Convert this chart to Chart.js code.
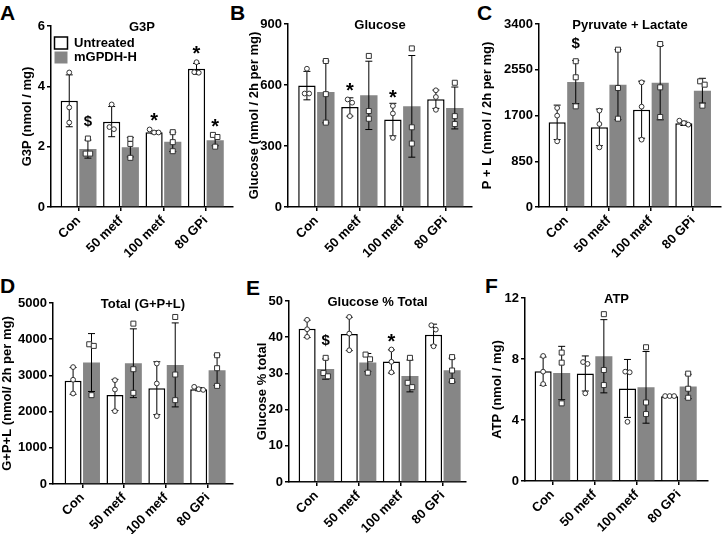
<!DOCTYPE html>
<html>
<head>
<meta charset="utf-8">
<script src="https://cdn.jsdelivr.net/npm/chart.js@4.4.0/dist/chart.umd.min.js"></script>
<style>
  body { margin: 0; background: #fff; width: 722px; height: 534px; position: relative; overflow: hidden;
         font-family: "Liberation Sans", Arial, sans-serif; }
  canvas { position: absolute; }
  .letter { position: absolute; font-weight: bold; font-size: 21px; line-height: 1; color: #000; }
</style>
</head>
<body>
<div class="letter" style="left:0px;top:2px">A</div>
<div class="letter" style="left:230px;top:2px">B</div>
<div class="letter" style="left:477px;top:2px">C</div>
<div class="letter" style="left:0px;top:275px">D</div>
<div class="letter" style="left:246px;top:277px">E</div>
<div class="letter" style="left:485px;top:275px">F</div>
<script>
const categories = ['Con', '50 metf', '100 metf', '80 GPi'];
const seriesNames = ['Untreated', 'mGPDH-H'];

// A - G3P
const g3pU = [3.52, 2.83, 2.48, 4.58];
const g3pUSd = [0.86, 0.5, 0.05, 0.18];
const g3pUPts = [[4.46, 3.3, 2.8], [3.4, 2.65, 2.58], [2.57, 2.47, 2.47], [4.8, 4.47, 4.45]];
const g3pUSig = ['', '', '*', '*'];
const g3pH = [1.92, 1.98, 2.16, 2.21];
const g3pHSd = [0.3, 0.32, 0.32, 0.18];
const g3pHPts = [[2.27, 1.77, 1.77], [2.26, 2.09, 1.63], [2.48, 2.15, 1.85], [2.39, 2.32, 2.0]];
const g3pHSig = ['$', '', '', '*'];

// B - Glucose
const gluU = [597, 492, 430, 530];
const gluUSd = [70, 45, 80, 45];
const gluUPts = [[680, 558, 558], [529, 513, 447], [497, 460, 340], [574, 541, 478]];
const gluUSig = ['', '*', '*', ''];
const gluH = [566, 549, 495, 487];
const gluHSd = [152, 168, 250, 103];
const gluHPts = [[718, 555, 415], [743, 472, 434], [780, 392, 312], [611, 447, 408]];
const gluHSig = ['', '', '', ''];

// C - Pyruvate + Lactate
const plU = [1573, 1480, 1808, 1554];
const plUSd = [320, 340, 530, 40];
const plUPts = [[1840, 1697, 1220], [1790, 1542, 1108], [2316, 1864, 1251], [1604, 1560, 1530]];
const plUSig = ['', '', '', ''];
const plH = [2322, 2273, 2310, 2161];
const plHSd = [400, 650, 690, 230];
const plHPts = [[2708, 2410, 1870], [2923, 2211, 1641], [3028, 2223, 1672], [2335, 2273, 1883]];
const plHSig = ['$', '', '', ''];

// D - Total (G+P+L)
const totU = [2849, 2460, 2647, 2620];
const totUSd = [370, 430, 730, 45];
const totUPts = [[3230, 2880, 2500], [2868, 2610, 2013], [3327, 2776, 1875], [2684, 2620, 2600]];
const totUSig = ['', '', '', ''];
const totH = [3355, 3336, 3290, 3143];
const totHSd = [800, 950, 1160, 420];
const totHPts = [[3860, 3815, 2454], [4430, 3171, 2518], [4614, 3024, 2316], [3557, 3199, 2711]];
const totHSig = ['', '', '', ''];

// E - Glucose % Total
const pctU = [42.3, 40.9, 33.3, 40.7];
const pctUSd = [2.4, 4.6, 3.2, 2.9];
const pctUPts = [[44.8, 42.2, 40.1], [45.6, 41.0, 36.4], [36.6, 33.2, 30.3], [43.3, 42.1, 37.5]];
const pctUSig = ['', '', '*', ''];
const pctH = [31.2, 33.0, 29.3, 30.9];
const pctHSd = [2.8, 2.5, 4.4, 3.3];
const pctHPts = [[34.3, 30.1, 29.2], [35.2, 33.9, 30.2], [34.3, 27.4, 26.2], [34.5, 30.8, 27.9]];
const pctHSig = ['$', '', '', ''];

// F - ATP
const atpU = [7.2, 7.05, 6.07, 5.55];
const atpUSd = [0.93, 1.15, 1.9, 0.04];
const atpUPts = [[8.2, 7.17, 6.36], [7.8, 7.68, 5.75], [7.17, 7.13, 3.88], [5.57, 5.57, 5.57]];
const atpUSig = ['', '', '', ''];
const atpH = [7.08, 8.18, 6.14, 6.2];
const atpHSd = [1.75, 2.4, 2.35, 0.8];
const atpHPts = [[8.42, 7.76, 5.09], [10.94, 7.28, 6.29], [8.77, 5.15, 4.39], [7.04, 6.05, 5.46]];
const atpHSig = ['', '', '', ''];

const FONT = '"Liberation Sans", Arial, sans-serif';
const GRAY = '#868686';

Chart.defaults.font.family = FONT;
Chart.defaults.font.weight = 'bold';
Chart.defaults.font.size = 13;
Chart.defaults.color = '#000';

const panels = [
  { id: 'A', box: [0, 0, 240, 267], padL: 20, yW: 31, padT: 26, padR: 7, xH: 60, xMin: -0.65, xMax: 3.64,
    title: 'G3P', yTitle: 'G3P (nmol / mg)', yMax: 6, step: 2, legend: true,
    u: g3pU, uSd: g3pUSd, uPts: g3pUPts, uSig: g3pUSig, h: g3pH, hSd: g3pHSd, hPts: g3pHPts, hSig: g3pHSig },
  { id: 'B', box: [240, 0, 240, 267], padL: 7, yW: 41, padT: 24, padR: 8, xH: 60, xMin: -0.66, xMax: 3.62,
    title: 'Glucose', yTitle: 'Glucose (nmol / 2h per mg)', yMax: 900, step: 300,
    u: gluU, uSd: gluUSd, uPts: gluUPts, uSig: gluUSig, h: gluH, hSd: gluHSd, hPts: gluHPts, hSig: gluHSig },
  { id: 'C', box: [480, 0, 242, 267], padL: 0, yW: 59, padT: 24, padR: 1, xH: 60, xMin: -0.65, xMax: 3.66,
    title: 'Pyruvate + Lactate', yTitle: 'P + L (nmol / 2h per mg)', yMax: 3400, step: 850,
    u: plU, uSd: plUSd, uPts: plUPts, uSig: plUSig, h: plH, hSd: plHSd, hPts: plHPts, hSig: plHSig },
  { id: 'D', box: [0, 267, 240, 267], padL: 0, yW: 53, padT: 36, padR: 7, xH: 50, xMin: -0.7, xMax: 3.6,
    title: 'Total (G+P+L)', yTitle: 'G+P+L (nmol/ 2h per mg)', yMax: 5000, step: 1000,
    u: totU, uSd: totUSd, uPts: totUPts, uSig: totUSig, h: totH, hSd: totHSd, hPts: totHPts, hSig: totHSig },
  { id: 'E', box: [240, 267, 240, 267], padL: 15, yW: 34, padT: 34, padR: 14, xH: 52, xMin: -0.65, xMax: 3.55,
    title: 'Glucose % Total', yTitle: 'Glucose % total', yMax: 50, step: 10,
    u: pctU, uSd: pctUSd, uPts: pctUPts, uSig: pctUSig, h: pctH, hSd: pctHSd, hPts: pctHPts, hSig: pctHSig },
  { id: 'F', box: [480, 267, 242, 267], padL: 10, yW: 35, padT: 31, padR: 14, xH: 53, xMin: -0.65, xMax: 3.69,
    title: 'ATP', yTitle: 'ATP (nmol / mg)', yMax: 12, step: 4,
    u: atpU, uSd: atpUSd, uPts: atpUPts, uSig: atpUSig, h: atpH, hSd: atpHSd, hPts: atpHPts, hSig: atpHSig }
];

// error bars, replicate points, significance marks and panel title
function extras(p) {
  return {
    id: 'extras' + p.id,
    afterLayout(chart) {
      // legend sits inside the plot, top-left
      if (p.legend && chart.legend) {
        const ca = chart.chartArea;
        chart.legend.left = ca.left + 2;
        chart.legend.top = ca.top + 9;
      }
    },
    afterDatasetsDraw(chart) {
      const ctx = chart.ctx;
      const y = chart.scales.y;
      const groups = [
        [p.u, p.uSd, p.uPts, p.uSig, 'circle'],
        [p.h, p.hSd, p.hPts, p.hSig, 'square']
      ];
      groups.forEach((g, ds) => {
        const [means, sds, pts, sig, shape] = g;
        chart.getDatasetMeta(ds).data.forEach((bar, i) => {
          const x = bar.x;
          const yTop = y.getPixelForValue(means[i] + sds[i]);
          const yBot = y.getPixelForValue(Math.max(means[i] - sds[i], 0));
          ctx.save();
          ctx.strokeStyle = '#000';
          ctx.lineWidth = 1;
          ctx.beginPath();
          ctx.moveTo(x, yTop); ctx.lineTo(x, yBot);
          ctx.moveTo(x - 3.5, yTop); ctx.lineTo(x + 3.5, yTop);
          ctx.moveTo(x - 3.5, yBot); ctx.lineTo(x + 3.5, yBot);
          ctx.stroke();

          const py = pts[i].map(v => y.getPixelForValue(v));
          ctx.strokeStyle = '#333';
          ctx.fillStyle = '#fff';
          py.forEach((yy, j) => {
            const near = py.map((q, k) => k).filter(k => Math.abs(py[k] - yy) < 5);
            const dx = (near.indexOf(j) - (near.length - 1) / 2) * 4.5;
            ctx.beginPath();
            if (shape === 'circle') ctx.arc(x + dx, yy, 2.4, 0, Math.PI * 2);
            else ctx.rect(x + dx - 2.5, yy - 2.5, 5, 5);
            ctx.fill();
            ctx.stroke();
          });

          if (sig[i]) {
            const top = Math.min(yTop, Math.min(...py) - 3);
            ctx.fillStyle = '#000';
            ctx.textAlign = 'center';
            ctx.textBaseline = 'alphabetic';
            if (sig[i] === '*') {
              ctx.font = 'bold 20px ' + FONT;
              ctx.fillText('*', x, top + 1);
            } else {
              ctx.font = 'bold 15px ' + FONT;
              ctx.fillText('$', x, top - 10);
            }
          }
          ctx.restore();
        });
      });
    },
    afterDraw(chart) {
      const ctx = chart.ctx;
      const ca = chart.chartArea;
      ctx.save();
      ctx.font = 'bold 13px ' + FONT;
      ctx.fillStyle = '#000';
      ctx.textAlign = 'center';
      ctx.textBaseline = 'middle';
      ctx.fillText(p.title, (ca.left + ca.right) / 2, ca.top + 1);
      ctx.restore();
    }
  };
}

panels.forEach(p => {
  const cv = document.createElement('canvas');
  cv.width = p.box[2];
  cv.height = p.box[3];
  cv.style.left = p.box[0] + 'px';
  cv.style.top = p.box[1] + 'px';
  cv.style.width = p.box[2] + 'px';
  cv.style.height = p.box[3] + 'px';
  document.body.appendChild(cv);

  new Chart(cv, {
    type: 'bar',
    data: {
      datasets: [
        { label: seriesNames[0], data: p.u.map((v, i) => ({ x: i, y: v })),
          backgroundColor: '#fff', borderColor: '#000', borderWidth: 1.5,
          barPercentage: 0.92, categoryPercentage: 0.88 },
        { label: seriesNames[1], data: p.h.map((v, i) => ({ x: i, y: v })),
          backgroundColor: GRAY, borderColor: GRAY, borderWidth: 0,
          barPercentage: 0.92, categoryPercentage: 0.88 }
      ]
    },
    options: {
      responsive: false,
      animation: false,
      layout: { padding: { left: p.padL, top: p.padT, right: p.padR, bottom: 0 } },
      plugins: {
        tooltip: { enabled: false },
        legend: {
          display: !!p.legend,
          position: 'chartArea',
          align: 'start',
          labels: { boxWidth: 13, boxHeight: 12, padding: 1.5, color: '#000',
                    font: { size: 13, weight: 'bold' } }
        }
      },
      scales: {
        x: {
          type: 'linear',
          min: p.xMin,
          max: p.xMax,
          offset: false,
          afterBuildTicks: s => { s.ticks = categories.map((c, i) => ({ value: i })); },
          afterFit: s => { s.height = p.xH; },
          grid: { drawOnChartArea: false, offset: false, color: '#000', lineWidth: 1.5, tickLength: 4 },
          border: { color: '#000', width: 1.5 },
          ticks: { autoSkip: false, minRotation: 45, maxRotation: 45, padding: 2,
                   callback: v => categories[v], font: { size: 13, weight: 'bold' } }
        },
        y: {
          min: 0,
          max: p.yMax,
          afterFit: s => { s.width = p.yW; },
          grid: { drawOnChartArea: false, color: '#000', lineWidth: 1.5, tickLength: 4 },
          border: { color: '#000', width: 1.5 },
          ticks: { stepSize: p.step, padding: 2, callback: v => String(v), font: { size: 13, weight: 'bold' } },
          title: { display: true, text: p.yTitle, padding: 0, color: '#000', font: { size: 13, weight: 'bold' } }
        }
      }
    },
    plugins: [extras(p)]
  });
});
</script>
</body>
</html>
